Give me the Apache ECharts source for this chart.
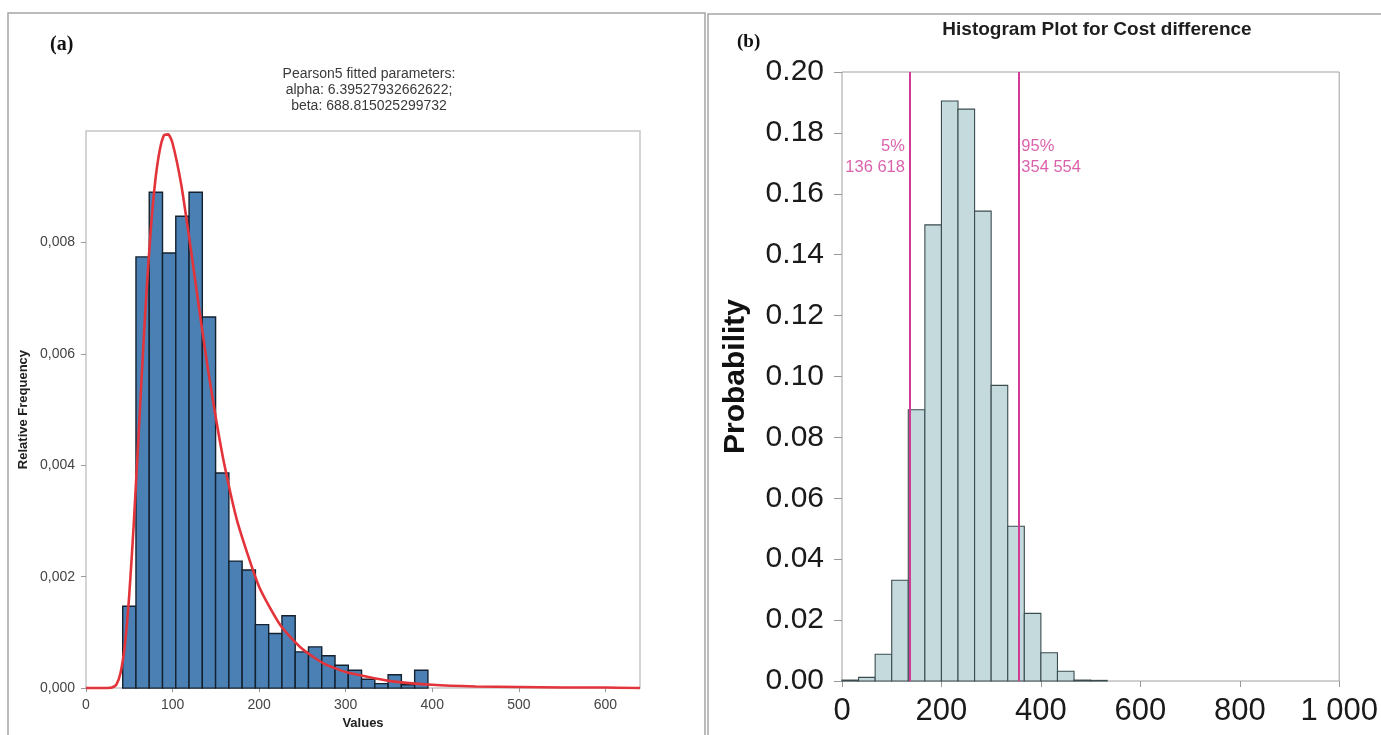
<!DOCTYPE html>
<html><head><meta charset="utf-8">
<script src="https://cdn.jsdelivr.net/npm/echarts@6/dist/echarts.min.js"></script>
<style>html,body{margin:0;padding:0;background:#fff}#c{width:1381px;height:735px}</style>
</head><body><div id="c"></div>
<script>
// ---------- Panel (a) data ----------
const aBinEdges = [42.4, 57.73, 73.06, 88.39, 103.72, 119.05, 134.38, 149.71, 165.04, 180.37, 195.7, 211.03, 226.36, 241.69, 257.02, 272.35, 287.68, 303.01, 318.34, 333.67, 349.0, 364.33, 379.66, 394.99];
const aHeights = [0.00147, 0.00774, 0.0089, 0.00781, 0.00847, 0.0089, 0.00666, 0.00386, 0.00228, 0.00212, 0.00114, 0.00098, 0.0013, 0.00065, 0.00074, 0.00058, 0.00041, 0.00032, 0.00016, 0.00008, 0.00024, 0.00006, 0.00032];
const aCurveX = [0, 25, 30, 35, 40, 45, 50, 55, 60, 65, 70, 75, 80, 85, 90, 95, 100, 110, 120, 130, 140, 150, 160, 175, 200, 225, 250, 275, 300, 350, 400, 450, 500, 550, 600, 640];
const aCurveY = [0, 0, 0.00001, 0.00006, 0.00028, 0.00079, 0.00168, 0.0029, 0.00433, 0.00579, 0.00714, 0.00826, 0.0091, 0.00964, 0.00992, 0.00994, 0.00978, 0.00904, 0.008, 0.00689, 0.00581, 0.00485, 0.004, 0.00298, 0.00182, 0.00112, 0.0007, 0.00044, 0.00029, 0.00013, 0.00006, 0.00003, 0.00002, 0.00001, 0.00001, 0];
const aXTicks = [0, 100, 200, 300, 400, 500, 600];
const aYTicks = [0, 0.002, 0.004, 0.006, 0.008];
const aTitleLines = ['Pearson5 fitted parameters:', 'alpha: 6.39527932662622;', 'beta: 688.815025299732'];

// ---------- Panel (b) data ----------
const bBinEdges = [0, 33.33, 66.67, 100, 133.33, 166.67, 200, 233.33, 266.67, 300, 333.33, 366.67, 400, 433.33, 466.67, 500, 533.33];
const bHeights = [0.0003, 0.0012, 0.0088, 0.0331, 0.0891, 0.1498, 0.1905, 0.1878, 0.1543, 0.0971, 0.0508, 0.0222, 0.0093, 0.0032, 0.0003, 0.0002];
const bPercentiles = [136.618, 354.554];
const bPercentNames = ['5%', '95%'];
const bPercentTexts = ['136 618', '354 554'];
const bXTicks = [0, 200, 400, 600, 800, 1000];
const bYTicks = [0, 0.02, 0.04, 0.06, 0.08, 0.10, 0.12, 0.14, 0.16, 0.18, 0.20];

const SANS = "'Liberation Sans', Arial, sans-serif";
const SERIF = "'Liberation Serif', 'DejaVu Serif', serif";
const MAGENTA = '#d23a96';

function histData(edges, heights) {
  return heights.map((h, i) => [edges[i], edges[i + 1], h]);
}
function histRender(fill, stroke, lw) {
  return function (params, api) {
    const p0 = api.coord([api.value(0), api.value(2)]);
    const p1 = api.coord([api.value(1), 0]);
    return {
      type: 'rect',
      shape: { x: p0[0], y: p0[1], width: p1[0] - p0[0], height: p1[1] - p0[1] },
      style: { fill: fill, stroke: stroke, lineWidth: lw }
    };
  };
}

const chart = echarts.init(document.getElementById('c'), null, { renderer: 'canvas' });

const option = {
  animation: false,
  backgroundColor: '#fff',
  title: [
    {
      text: aTitleLines.join('\n'),
      left: 364, top: 61, textAlign: 'center',
      textStyle: { fontFamily: SANS, fontSize: 14, lineHeight: 16, fontWeight: 'normal', color: '#3a3a3a' }
    },
    {
      text: 'Histogram Plot for Cost difference',
      left: 1092, top: 15, textAlign: 'center',
      textStyle: { fontFamily: SANS, fontSize: 19, fontWeight: 'bold', color: '#1e1e1e' }
    }
  ],
  graphic: [
    { type: 'polyline', shape: { points: [[8, 735], [8, 13], [705, 13], [705, 735]] }, style: { stroke: '#a5a5a5', lineWidth: 1.5, fill: null }, silent: true },
    { type: 'polyline', shape: { points: [[708, 735], [708, 14], [1381, 14]] }, style: { stroke: '#a5a5a5', lineWidth: 1.5, fill: null }, silent: true },
    { type: 'text', left: 50, top: 35, style: { text: '(a)', font: "bold 20px " + SERIF, fill: '#111' } },
    { type: 'text', left: 737, top: 33, style: { text: '(b)', font: "bold 19px " + SERIF, fill: '#111' } }
  ],
  grid: [
    { left: 86, top: 131, width: 554, height: 558, show: true, borderColor: '#c6c6c6', borderWidth: 1.5, backgroundColor: '#fff' },
    { left: 842, top: 72, width: 500, height: 609, show: true, borderColor: '#a0a0a0', borderWidth: 1, backgroundColor: '#fff' }
  ],
  xAxis: [
    {
      gridIndex: 0, type: 'value', min: 0, max: 640,
      name: 'Values', nameLocation: 'middle', nameGap: 26,
      nameTextStyle: { fontFamily: SANS, fontSize: 13, fontWeight: 'bold', color: '#222' },
      axisLine: { show: false },
      axisTick: { show: true, length: 4, lineStyle: { color: '#999' }, customValues: aXTicks },
      axisLabel: { fontFamily: SANS, fontSize: 14, color: '#444', margin: 10, customValues: aXTicks },
      splitLine: { show: false }
    },
    {
      gridIndex: 1, type: 'value', min: 0, max: 1000,
      axisLine: { show: false },
      axisTick: { show: true, length: 6, lineStyle: { color: '#999' }, customValues: bXTicks },
      axisLabel: {
        fontFamily: SANS, fontSize: 31, color: '#1a1a1a', margin: 15, customValues: bXTicks,
        formatter: v => String(v).replace(/\B(?=(\d{3})+(?!\d))/g, ' ')
      },
      splitLine: { show: false }
    }
  ],
  yAxis: [
    {
      gridIndex: 0, type: 'value', min: 0, max: 0.010,
      name: 'Relative Frequency', nameLocation: 'middle', nameGap: 56,
      nameTextStyle: { fontFamily: SANS, fontSize: 13, fontWeight: 'bold', color: '#222' },
      axisLine: { show: false },
      axisTick: { show: true, length: 5, lineStyle: { color: '#999' }, customValues: aYTicks },
      axisLabel: { fontFamily: SANS, fontSize: 14, color: '#444', margin: 11, customValues: aYTicks,
        formatter: v => v.toFixed(3).replace('.', ',') },
      splitLine: { show: false }
    },
    {
      gridIndex: 1, type: 'value', min: 0, max: 0.20,
      name: 'Probability', nameLocation: 'middle', nameGap: 91,
      nameTextStyle: { fontFamily: SANS, fontSize: 30, fontWeight: 'bold', color: '#111' },
      axisLine: { show: false },
      axisTick: { show: true, length: 8, lineStyle: { color: '#999' }, customValues: bYTicks },
      axisLabel: { fontFamily: SANS, fontSize: 30, color: '#1a1a1a', margin: 18, customValues: bYTicks,
        formatter: v => v.toFixed(2) },
      splitLine: { show: false }
    }
  ],
  series: [
    {
      type: 'custom', xAxisIndex: 0, yAxisIndex: 0,
      data: histData(aBinEdges, aHeights),
      encode: { x: [0, 1], y: 2 },
      renderItem: histRender('#4a80b4', '#14212e', 1.4), z: 2
    },
    {
      type: 'line', xAxisIndex: 0, yAxisIndex: 0,
      data: aCurveX.map((x, i) => [x, aCurveY[i]]),
      showSymbol: false, smooth: 0.2,
      lineStyle: { color: '#e2343a', width: 2.6 }, z: 3
    },
    {
      type: 'custom', xAxisIndex: 1, yAxisIndex: 1,
      data: histData(bBinEdges, bHeights),
      encode: { x: [0, 1], y: 2 },
      renderItem: histRender('#c4dadd', '#3b4c4f', 1.1), z: 2
    },
    {
      type: 'scatter', xAxisIndex: 1, yAxisIndex: 1, symbolSize: 0, z: 4,
      data: bPercentiles.map((p, i) => ({
        value: [p, 0.172],
        label: {
          show: true,
          position: i === 0 ? 'left' : 'right',
          align: i === 0 ? 'right' : 'left',
          distance: i === 0 ? 5 : 3,
          formatter: bPercentNames[i] + '\n' + bPercentTexts[i],
          fontFamily: SANS, fontSize: 16.5, lineHeight: 21, color: MAGENTA
        }
      })),
      markLine: {
        silent: true, symbol: ['none', 'none'],
        label: { show: false },
        lineStyle: { color: MAGENTA, width: 2, type: 'solid' },
        data: bPercentiles.map(p => ({ xAxis: p }))
      }
    }
  ]
};
chart.setOption(option);
</script>
</body></html>
